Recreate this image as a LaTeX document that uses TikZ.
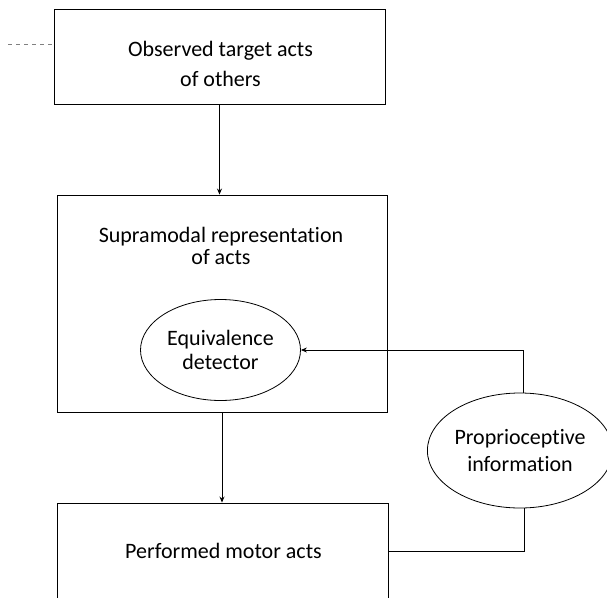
\documentclass[tikz,border=0pt]{standalone}
\usepackage{fontspec}
\setmainfont{Carlito}[Ligatures=NoCommon]
\usetikzlibrary{arrows.meta,shapes.geometric}
\begin{document}
\begin{tikzpicture}[x=1pt,y=-1pt,
  box/.style={draw, line width=0.9pt, rectangle, inner sep=0pt},
  oval/.style={draw, line width=0.8pt, ellipse, inner sep=0pt, align=center},
  lbl/.style={inner sep=0pt, align=center},
  conn/.style={line width=0.9pt},
  arr/.style={conn, -{Stealth[length=6pt,width=5pt]}},
  font=\fontsize{22}{30}\selectfont]
\useasboundingbox (0,0) rectangle (607,597);
\clip (0,0) rectangle (607,597);
% boxes
\node[box, minimum width=331pt, minimum height=95pt] (top) at (219.5,56.5) {};
\node[lbl, font=\fontsize{22}{30}\selectfont] (toptext) at (220.5,64.2) {Observed target acts\\of others};
\node[box, minimum width=330pt, minimum height=217pt] (mid) at (222,303.5) {};
\node[lbl, font=\fontsize{22}{22}\selectfont] (midtext) at (221,245.5) {Supramodal representation\\of acts};
\node[oval, minimum width=160pt, minimum height=101pt, font=\fontsize{22}{24}\selectfont] (equiv) at (220.5,350) {Equivalence\\detector};
\node[oval, minimum width=173pt, minimum height=115pt, font=\fontsize{22}{27}\selectfont] (prop) at (520,450.5) {Proprioceptive\\information};
\node[box, minimum width=331pt, minimum height=97pt] (perf) at (222.5,551.5) {};
\node[lbl] (perftext) at (223.5,550.5) {Performed motor acts};
% connectors
\draw[arr] (top.south) -- (top.south |- mid.north);
\draw[arr] (mid.south) -- (mid.south |- perf.north);
\draw[arr] ([xshift=3pt]prop.north) |- (equiv.east);
\draw[conn] ([xshift=4pt]prop.south) |- (perf.east);
% dashed lead-in at left
\coordinate (dstart) at (8,44);
\draw[gray, line width=0.6pt, dash pattern=on 4pt off 4pt] (dstart) -- (dstart -| top.west);
\end{tikzpicture}
\end{document}
